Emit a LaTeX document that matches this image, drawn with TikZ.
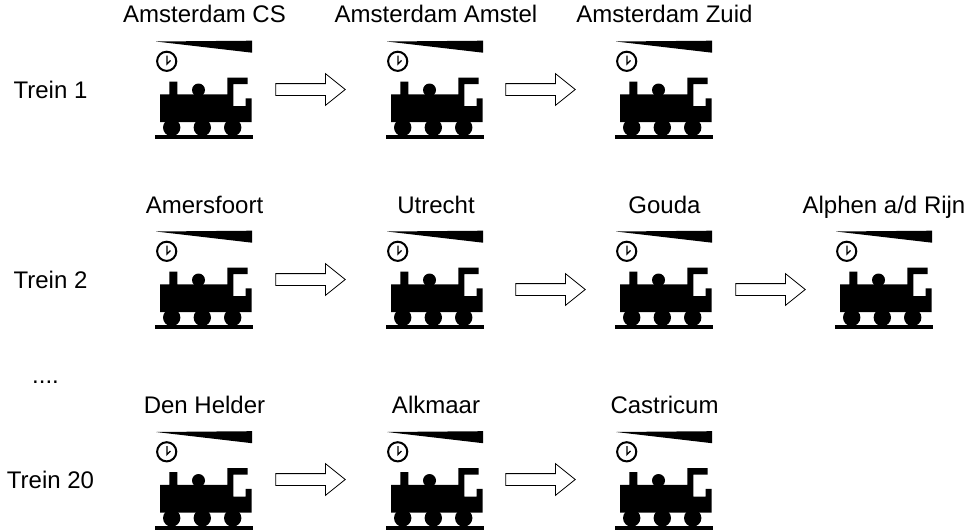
\documentclass[tikz,border=0pt]{standalone}
\usepackage{fontspec}
\setmainfont{Liberation Sans}
\usetikzlibrary{shapes.arrows}
\tikzset{
  lbl/.style={inner sep=0pt,anchor=base,font=\fontsize{24}{28}\selectfont},
  iconbox/.style={minimum width=98pt,minimum height=99pt,inner sep=0pt,anchor=north west},
  blockarrow/.style={shape=single arrow,draw=black,fill=white,line width=0.8pt,inner sep=0pt,outer sep=0pt,
    single arrow head extend=10pt,single arrow tip angle=77.5,single arrow head indent=0pt,minimum height=69.5pt,anchor=center},
  train/.pic={
    \fill[black] (1,1.5) -- (97,0.7) -- (97,12.7) -- cycle;
    \draw[black,line width=2pt,fill=white] (11.7,21.3) circle (9.6);
    \draw[black,line width=1.3pt] (12,15.5) -- (12,24) -- (15.5,20.5);
    \fill[black] (5,54.3) -- (14.3,54.3) -- (14.3,41.7) -- (22.3,41.7) -- (22.3,54.3) -- (72.3,54.3) -- (72.3,37.7) -- (92.7,37.7) -- (92.7,44) -- (78.3,44) -- (78.3,66) -- (90.7,66) -- (90.7,58.3) -- (96.7,58.3) -- (96.7,82) -- (5,82) -- cycle;
    \fill[black] (43.5,50) circle (6.5);
    \foreach \wx in {16.7,47.3,77.7}{\fill[black] (\wx,87.5) circle (8.7);}
    \fill[black] (0,95.2) rectangle (98.3,99);
  }
}
\begin{document}
\begin{tikzpicture}[x=1pt,y=-1pt]
\useasboundingbox (0,0) rectangle (975,530);
\foreach \nm/\ix/\iy in {aa/155/40,ab/386/40,ac/615/40,ba/155/230,bb/386/230,bc/615/230,bd/835/230,ca/155/430.5,cb/386/430.5,cc/615/430.5}{
  \node[iconbox] (\nm) at (\ix,\iy) {};
  \path (\ix,\iy) pic {train};
}
\node[lbl] (taa) at (204.5,23) {Amsterdam CS};
\node[lbl] (tab) at (436,23) {Amsterdam Amstel};
\node[lbl] (tac) at (664.5,23) {Amsterdam Zuid};
\node[lbl] (tba) at (204.5,213) {Amersfoort};
\node[lbl] (tbb) at (436,213) {Utrecht};
\node[lbl] (tbc) at (664.5,213) {Gouda};
\node[lbl] (tbd) at (884,213) {Alphen a/d Rijn};
\node[lbl] (tca) at (204.5,413) {Den Helder};
\node[lbl] (tcb) at (436,413) {Alkmaar};
\node[lbl] (tcc) at (664.5,413) {Castricum};
\node[lbl] (r1) at (50.5,98) {Trein 1};
\node[lbl] (r2) at (50.5,288) {Trein 2};
\node[lbl] (dots) at (45.5,383) {....};
\node[lbl] (r3) at (50.5,488) {Trein 20};
\node[blockarrow] (a1) at (306.8,89.5) {\rule{0pt}{11pt}};
\node[blockarrow] (a2) at (536.8,89.5) {\rule{0pt}{11pt}};
\node[blockarrow] (a3) at (306.8,279.5) {\rule{0pt}{11pt}};
\node[blockarrow] (a4) at (546.8,289.5) {\rule{0pt}{11pt}};
\node[blockarrow] (a5) at (766.8,289.5) {\rule{0pt}{11pt}};
\node[blockarrow] (a6) at (306.8,479.5) {\rule{0pt}{11pt}};
\node[blockarrow] (a7) at (536.8,479.5) {\rule{0pt}{11pt}};
\end{tikzpicture}
\end{document}
